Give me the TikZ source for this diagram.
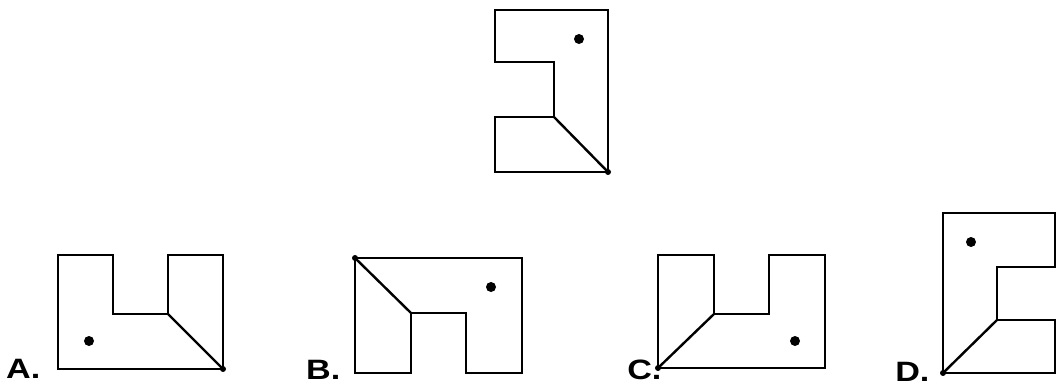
\documentclass[tikz,border=0pt]{standalone}
\usepackage{fontspec}
\setmainfont{Liberation Sans}
\begin{document}
\begin{tikzpicture}[x=1pt,y=-1pt,
  shape line/.style={line width=2.4pt, line join=miter, black},
  bigdot/.style={fill=black},
  lbl/.style={anchor=base west, inner sep=0pt, xscale=1.22, font=\fontsize{28}{30}\selectfont\bfseries}]
\useasboundingbox (0,0) rectangle (1057,387);
% top figure
\draw[shape line] (495,10) -- (608,10) -- (608,172) -- (495,172) -- (495,117) -- (554,117) -- (554,62) -- (495,62) -- cycle;
\draw[shape line] (554,117) -- (608,172);
\fill[bigdot] (579,39) circle (5);
\fill (608,172) circle (3);
% A
\draw[shape line] (58,255) -- (113,255) -- (113,314) -- (168,314) -- (168,255) -- (223,255) -- (223,369) -- (58,369) -- cycle;
\draw[shape line] (168,314) -- (223,369);
\fill[bigdot] (89,341) circle (5);
\fill (223,369) circle (3);
\node[lbl] (la) at (6,378) {A.};
% B
\draw[shape line] (355,258) -- (522,258) -- (522,373) -- (466,373) -- (466,313) -- (411,313) -- (411,373) -- (355,373) -- cycle;
\draw[shape line] (355,258) -- (411,313);
\fill[bigdot] (491,287) circle (5);
\fill (355,258) circle (3);
\node[lbl] (lb) at (306,379) {B.};
% C
\draw[shape line] (658,255) -- (714,255) -- (714,314) -- (769,314) -- (769,255) -- (825,255) -- (825,368) -- (658,368) -- cycle;
\draw[shape line] (714,314) -- (658,368);
\fill[bigdot] (795,341) circle (5);
\fill (658,368) circle (3);
\node[lbl] (lc) at (627,379) {C.};
% D
\draw[shape line] (943,213) -- (1055,213) -- (1055,267) -- (997,267) -- (997,320) -- (1055,320) -- (1055,373) -- (943,373) -- cycle;
\draw[shape line] (997,320) -- (943,373);
\fill[bigdot] (971,242) circle (5);
\fill (943,373) circle (3);
\node[lbl] (ld) at (895,381) {D.};
\end{tikzpicture}
\end{document}
